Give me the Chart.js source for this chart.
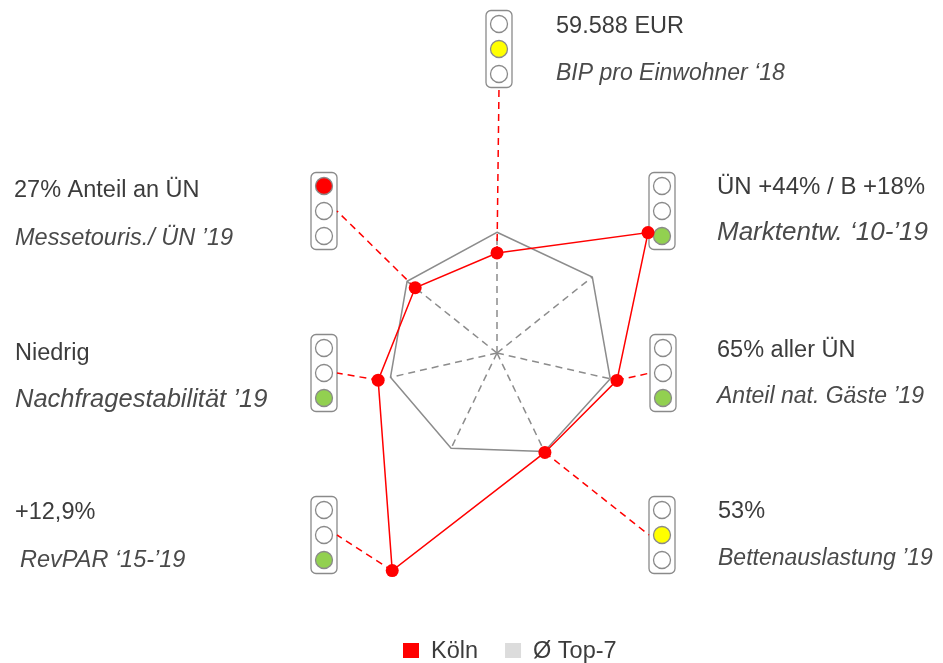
<!DOCTYPE html>
<html lang="de">
<head>
<meta charset="utf-8">
<title>Köln – Ampel-Radar</title>
<script src="https://cdn.jsdelivr.net/npm/chart.js@4/dist/chart.umd.min.js"></script>
<style>
  html, body { margin: 0; padding: 0; background: #fff; }
  #wrap { width: 943px; height: 663px; }
</style>
</head>
<body>
<div id="wrap"><canvas id="radarChart"></canvas></div>
<script>
// Data
const categories = ["BIP pro Einwohner ‘18", "Marktentw. ‘10-’19", "Anteil nat. Gäste ’19", "Bettenauslastung ’19", "RevPAR ‘15-’19", "Nachfragestabilität ’19", "Messetouris./ ÜN ’19"];
const kpiValues = ["59.588 EUR", "ÜN +44% / B +18%", "65% aller ÜN", "53%", "+12,9%", "Niedrig", "27% Anteil an ÜN"];
const koelnScores = [87, 168, 107, 96, 210, 106, 91];
const top7Scores = [105, 106, 101, 95, 92, 95, 100];
const ampel = ["gelb", "grün", "grün", "gelb", "grün", "grün", "rot"];
const scaleMax = 220;

// layout of the traffic lights and texts around the radar
const lights = [
  { x: 499, y: 49, side: "bottom" },
  { x: 662, y: 211, side: null },
  { x: 663, y: 373, side: "left" },
  { x: 662, y: 535, side: "left" },
  { x: 324, y: 535, side: "right" },
  { x: 324, y: 373, side: "right" },
  { x: 324, y: 211, side: "right" },
];
const labels = [
  { x: 556, y: 33, size: 23.5, sx: 556, sy: 80, ssize: 23 },
  { x: 717, y: 194, size: 24, sx: 717, sy: 240, ssize: 26 },
  { x: 717, y: 357, size: 23.5, sx: 717, sy: 403, ssize: 23 },
  { x: 718, y: 518, size: 23.5, sx: 718, sy: 565, ssize: 23 },
  { x: 15, y: 519, size: 23.5, sx: 20, sy: 567, ssize: 23.5 },
  { x: 15, y: 360, size: 23.5, sx: 15, sy: 407, ssize: 25.5 },
  { x: 14, y: 197, size: 23.5, sx: 15, sy: 245, ssize: 23.5 },
];
const lampColors = { rot: "#ff0000", gelb: "#ffff00", "grün": "#92d050" };
const lampIndex = { rot: 0, gelb: 1, "grün": 2 };
const FONT = "'Liberation Sans', Arial, sans-serif";

function drawLight(ctx, cx, cy, state) {
  const w = 26, h = 77;
  ctx.save();
  ctx.lineWidth = 1.3;
  ctx.strokeStyle = "#8a8a8a";
  ctx.fillStyle = "#fff";
  ctx.beginPath();
  ctx.roundRect(cx - w / 2, cy - h / 2, w, h, 5);
  ctx.fill();
  ctx.stroke();
  for (let k = 0; k < 3; k++) {
    ctx.beginPath();
    ctx.arc(cx, cy + (k - 1) * 25, 8.5, 0, Math.PI * 2);
    ctx.fillStyle = lampIndex[state] === k ? lampColors[state] : "#fff";
    ctx.fill();
    ctx.stroke();
  }
  ctx.restore();
}

const ampelPlugin = {
  id: "ampel",
  beforeDatasetsDraw(chart) {
    const ctx = chart.ctx;
    const r = chart.scales.r;
    const red = chart.getDatasetMeta(0).data;
    const grey = chart.getDatasetMeta(1).data;
    lights.forEach((l, i) => drawLight(ctx, l.x, l.y, ampel[i]));
    ctx.save();
    ctx.lineWidth = 1.5;
    ctx.setLineDash([7, 5]);
    // spokes
    ctx.strokeStyle = "#8c8c8c";
    grey.forEach((p) => {
      ctx.beginPath();
      ctx.moveTo(r.xCenter, r.yCenter);
      ctx.lineTo(p.x, p.y);
      ctx.stroke();
    });
    // connectors to the lights
    ctx.strokeStyle = "#ff0000";
    red.forEach((p, i) => {
      const l = lights[i];
      if (!l.side) return;
      let tx = l.x, ty = l.y;
      if (l.side === "bottom") ty = l.y + 38.5;
      if (l.side === "left") tx = l.x - 13;
      if (l.side === "right") tx = l.x + 13;
      ctx.beginPath();
      ctx.moveTo(p.x, p.y);
      ctx.lineTo(tx, ty);
      ctx.stroke();
    });
    ctx.restore();
  },
  afterDraw(chart) {
    const ctx = chart.ctx;
    ctx.save();
    ctx.textBaseline = "alphabetic";
    labels.forEach((t, i) => {
      ctx.fillStyle = "#3c3c3c";
      ctx.font = t.size + "px " + FONT;
      ctx.fillText(kpiValues[i], t.x, t.y);
      ctx.fillStyle = "#4a4a4a";
      ctx.font = "italic " + t.ssize + "px " + FONT;
      ctx.fillText(categories[i], t.sx, t.sy);
    });
    // legend
    let x = 403;
    ctx.font = "23.5px " + FONT;
    chart.data.datasets.forEach((ds) => {
      ctx.fillStyle = ds.legendColor;
      ctx.fillRect(x, 643, 16, 15);
      x += 28;
      ctx.fillStyle = "#3c3c3c";
      ctx.fillText(ds.label, x, 658);
      x += ctx.measureText(ds.label).width + 27;
    });
    ctx.restore();
  },
};

new Chart(document.getElementById("radarChart"), {
  type: "radar",
  data: {
    labels: categories,
    datasets: [
      {
        label: "Köln",
        data: koelnScores,
        borderColor: "#ff0000",
        backgroundColor: "#ff0000",
        legendColor: "#ff0000",
        borderWidth: 1.5,
        pointRadius: 6.5,
        pointBorderWidth: 0,
        pointBackgroundColor: "#ff0000",
        fill: false,
      },
      {
        label: "Ø Top-7",
        data: top7Scores,
        borderColor: "#8c8c8c",
        backgroundColor: "#dcdcdc",
        legendColor: "#dcdcdc",
        borderWidth: 1.5,
        pointRadius: 0,
        fill: false,
      },
    ],
  },
  options: {
    responsive: true,
    maintainAspectRatio: false,
    animation: false,
    layout: { padding: { left: 244, right: 193, top: 100, bottom: 57 } },
    scales: {
      r: {
        min: 0,
        max: scaleMax,
        grid: { display: false },
        angleLines: { display: false },
        ticks: { display: false },
        pointLabels: { display: false },
      },
    },
    plugins: { legend: { display: false }, tooltip: { enabled: false } },
  },
  plugins: [ampelPlugin],
});
</script>
</body>
</html>
